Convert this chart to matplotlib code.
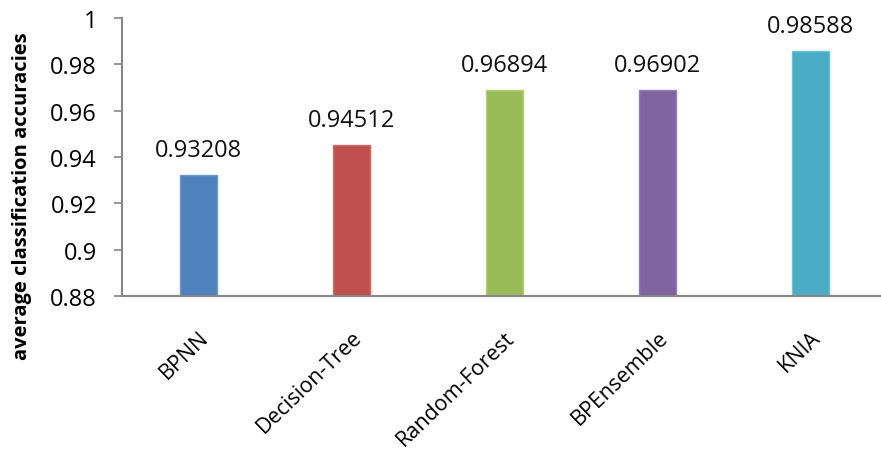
import matplotlib
matplotlib.use('Agg')
import matplotlib.pyplot as plt
import numpy as np

plt.rcParams['font.family'] = ['Open Sans', 'DejaVu Sans']

methods = ['BPNN', 'Decision-Tree', 'Random-Forest', 'BPEnsemble', 'KNIA']
accuracy = [0.93208, 0.94512, 0.96894, 0.96902, 0.98588]
colors = ['#4F81BD', '#C0504D', '#9BBB59', '#8064A2', '#4BACC6']
edges = ['#6E9AD0', '#D36C69', '#B2CF76', '#9780B8', '#6CC2D8']
yticks = [0.88, 0.9, 0.92, 0.94, 0.96, 0.98, 1]

fig = plt.figure(figsize=(8.81, 4.52), dpi=100)
ax = fig.add_axes([122/881, 1 - 297/452, (887 - 122)/881, (297 - 19)/452])

x = np.arange(len(methods))
ax.bar(x, accuracy, width=0.245, color=colors, edgecolor=edges, linewidth=1)
for xi, v in zip(x, accuracy):
    ax.annotate('%.5f' % v, (xi, v), xytext=(0, 9.5), textcoords='offset points',
                ha='center', va='bottom', fontsize=17, color='#111111')

ax.set_xlim(-0.5, len(methods) - 0.5)
ax.set_ylim(0.88, 1)
ax.set_yticks(yticks)
ax.set_yticklabels(['%g' % t for t in yticks], fontsize=17)
ax.set_xticks(x)
ax.set_xticklabels(methods, rotation=44, ha='right', va='top', rotation_mode='anchor', fontsize=15.5)
ax.tick_params(axis='x', length=0, pad=22)
ax.tick_params(axis='y', length=6, width=1.2, color='#868686', pad=12)

for s in ['top', 'right']:
    ax.spines[s].set_visible(False)
for s in ['left', 'bottom']:
    ax.spines[s].set_color('#868686')
    ax.spines[s].set_linewidth(1.5)

ax.set_ylabel('average classification accuracies', fontsize=14.5, fontweight='bold')
ax.yaxis.set_label_coords(-0.118, 0.363)

fig.savefig('out.png', dpi=100)
